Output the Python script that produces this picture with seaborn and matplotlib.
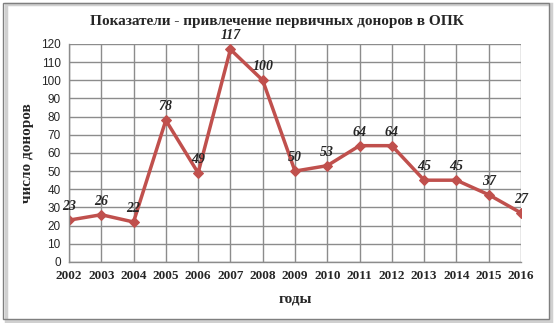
import pandas as pd
import seaborn as sns
import matplotlib.pyplot as plt
from matplotlib.patches import Rectangle

# data
years = [2002, 2003, 2004, 2005, 2006, 2007, 2008, 2009, 2010, 2011, 2012, 2013, 2014, 2015, 2016]
donors = [23, 26, 22, 78, 49, 117, 100, 50, 53, 64, 64, 45, 45, 37, 27]
y_ticks = list(range(0, 130, 10))

df = pd.DataFrame({'year': years, 'donors': donors})

sns.set_style('white')
plt.rcParams['font.family'] = ['Liberation Serif', 'DejaVu Serif']

fig = plt.figure(figsize=(5.54, 3.23), dpi=100)
ax = fig.add_axes([0.1245, 0.189, 0.8159, 0.675])

line_color = '#C0504D'
sns.lineplot(data=df, x='year', y='donors', ax=ax, color=line_color, linewidth=2.5,
             marker='D', markersize=5.5, markeredgecolor=line_color)

ax.set_xlim(years[0], years[-1])
ax.set_ylim(0, 120)
ax.set_xticks(years)
ax.set_yticks(y_ticks)
ax.set_xticklabels([str(y) for y in years], fontweight='bold', fontsize=9.5)
ax.set_yticklabels([str(t) for t in y_ticks], family='Liberation Sans', fontsize=8.5)
ax.grid(True, color='#8c8c8c', linewidth=1)
for side in ['top', 'right']:
    ax.spines[side].set_visible(False)
for side in ['left', 'bottom']:
    ax.spines[side].set_color('#8c8c8c')
    ax.spines[side].set_linewidth(1)
ax.tick_params(axis='both', length=4, color='#8c8c8c', direction='out', pad=2)

for x, v in zip(years, donors):
    ax.annotate(str(v), (x, v), xytext=(0, 5), textcoords='offset points',
                ha='center', va='bottom', fontsize=10, fontweight='bold', fontstyle='italic')

ax.set_xlabel('годы', fontsize=11, fontweight='bold', labelpad=7)
ax.set_ylabel('число доноров', fontsize=11, fontweight='bold', labelpad=5)
fig.text(0.5, 0.932, 'Показатели - привлечение первичных доноров в ОПК',
         ha='center', va='center', fontsize=11, fontweight='bold')

# chart frame with a light shadow
fig.patches.append(Rectangle((0.010, 0.006), 0.985, 0.982, transform=fig.transFigure,
                             facecolor='none', edgecolor='#d0d0d0', linewidth=2.5, zorder=-1))
fig.patches.append(Rectangle((0.006, 0.012), 0.985, 0.980, transform=fig.transFigure,
                             facecolor='none', edgecolor='#7f7f7f', linewidth=1, zorder=0))

plt.savefig('out.png', dpi=100)
